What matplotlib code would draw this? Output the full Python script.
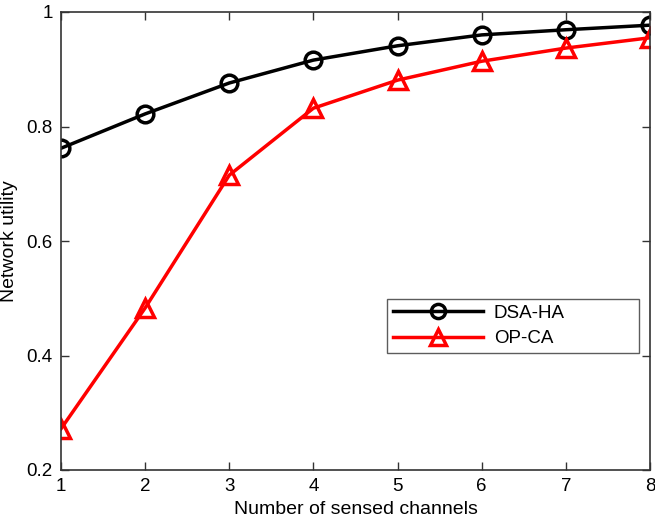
import matplotlib
matplotlib.use("Agg")
import matplotlib.pyplot as plt

plt.rcParams['font.family'] = ['Liberation Sans', 'DejaVu Sans']

channels = [1, 2, 3, 4, 5, 6, 7, 8]
dsa_ha = [0.762, 0.822, 0.876, 0.916, 0.941, 0.960, 0.969, 0.977]
op_ca = [0.272, 0.483, 0.715, 0.832, 0.881, 0.914, 0.937, 0.955]
yticks = [0.2, 0.4, 0.6, 0.8, 1.0]
ytick_labels = ['0.2', '0.4', '0.6', '0.8', '1']

fig = plt.figure(figsize=(6.55, 5.22), dpi=100)
ax = fig.add_axes([61 / 655, 1 - 470 / 522, (650 - 61) / 655, (470 - 12) / 522])

ax.plot(channels, dsa_ha, color='black', lw=2.5, marker='o', ms=12,
        mfc='none', mew=2.5, label='DSA-HA')
ax.plot(channels, op_ca, color='red', lw=2.5, marker='^', ms=13,
        mfc='none', mew=2.5, label='OP-CA')

ax.set_xlim(1, 8)
ax.set_ylim(0.2, 1.0)
ax.set_xticks(channels)
ax.set_yticks(yticks)
ax.set_yticklabels(ytick_labels)
ax.tick_params(direction='in', top=True, right=True, labelsize=13.5,
               length=6, width=1, color='#333333', pad=6)
for s in ax.spines.values():
    s.set_linewidth(1.2)
    s.set_color('#333333')

ax.set_xlabel('Number of sensed channels', fontsize=14, labelpad=4)
ax.set_ylabel('Network utility', fontsize=14, labelpad=6)

leg = ax.legend(loc='lower left', bbox_to_anchor=(0.5535, 0.2555, 0.428, 0.118),
                mode='expand', borderaxespad=0, fontsize=13.5,
                frameon=True, fancybox=False, edgecolor='#333333',
                handlelength=4.8, handletextpad=0.6, borderpad=0.3,
                labelspacing=0.45, markerscale=0.85)
leg.get_frame().set_linewidth(1.0)

fig.savefig('out.png', dpi=100)
